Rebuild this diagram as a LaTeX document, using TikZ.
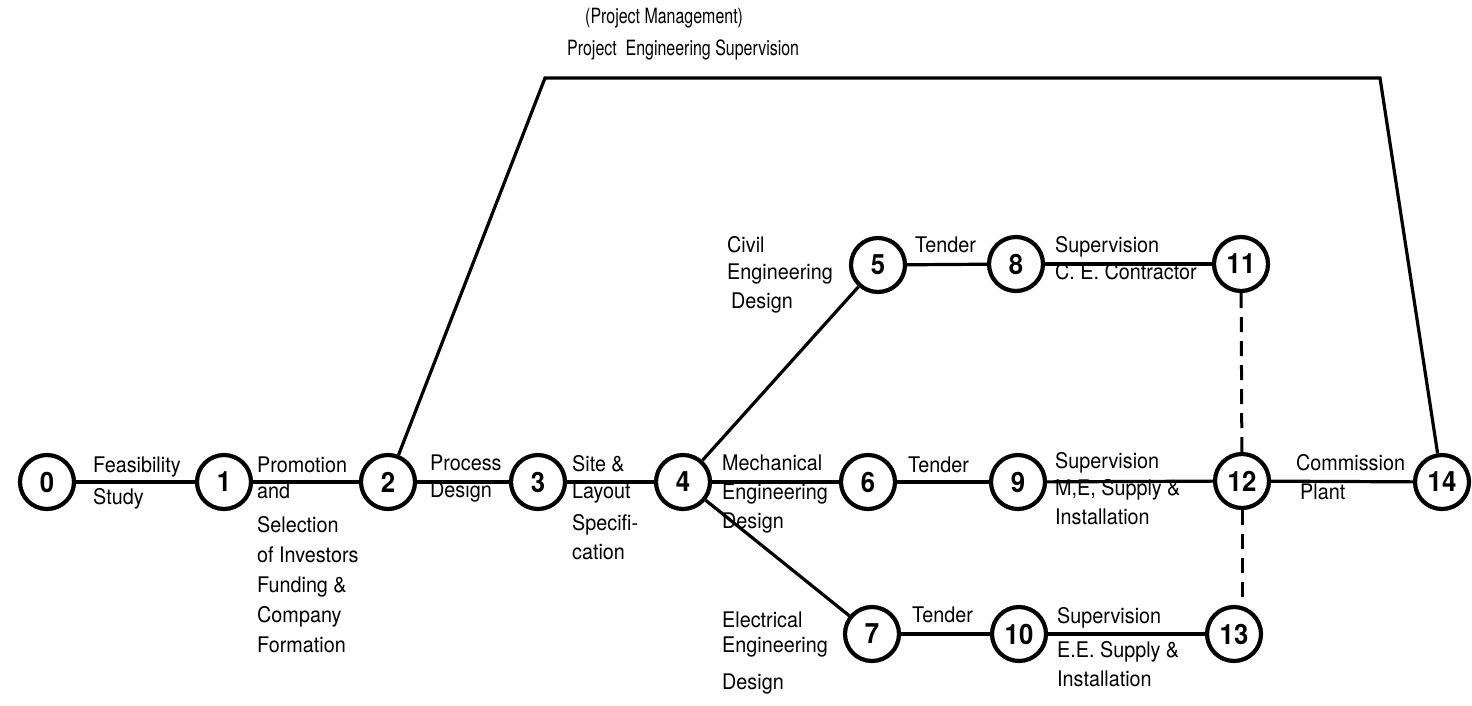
\documentclass[tikz,border=0pt]{standalone}
\usepackage{fontspec}
\setmainfont{TeX Gyre Heros}[FakeStretch=0.92]
\newfontfamily\titlefont{TeX Gyre Heros}[FakeStretch=0.76]
\usetikzlibrary{positioning}

\tikzset{
  event/.style={circle, draw, line width=4.2pt, minimum size=54pt, inner sep=0pt,
    font=\fontsize{28}{28}\selectfont\bfseries},
  act/.style={line width=3.2pt},
  dummy/.style={line width=3pt, dash pattern=on 15pt off 9pt},
  lbl/.style={anchor=north west, inner sep=0pt, align=left,
    font=\fontsize{21.5}{29}\selectfont},
  ttl/.style={anchor=west, inner sep=0pt, font=\titlefont\fontsize{21}{25}\selectfont},
}

\begin{document}
\begin{tikzpicture}[x=1pt, y=-1pt]
  \useasboundingbox (0,0) rectangle (1472,705);

  % events
  \node[event] (n0) at (47,482) {0};
  \node[event] (n1) at (224,482) {1};
  \node[event] (n2) at (388,482) {2};
  \node[event] (n3) at (538,482) {3};
  \node[event] (n4) at (683,482) {4};
  \node[event] (n5) at (878,265) {5};
  \node[event] (n6) at (868,482) {6};
  \node[event] (n7) at (872,634) {7};
  \node[event] (n8) at (1016,264) {8};
  \node[event] (n9) at (1018,482) {9};
  \node[event] (n10) at (1019,634) {10};
  \node[event] (n11) at (1241,264) {11};
  \node[event] (n12) at (1242,481) {12};
  \node[event] (n13) at (1234,634) {13};
  \node[event] (n14) at (1442,482) {14};

  \coordinate (pmL) at (545,78);
  \coordinate (pmR) at (1380,78);

  % activities
  \path[act]
    (n0) edge (n1)
    (n1) edge (n2)
    (n2) edge (n3)
    (n3) edge (n4)
    (n4) edge (n5)
    (n4) edge (n6)
    (n4) edge (n7)
    (n5) edge (n8)
    (n6) edge (n9)
    (n7) edge (n10)
    (n8) edge (n11)
    (n9) edge (n12)
    (n10) edge (n13)
    (n12) edge (n14)
    ;
  \draw[act, line join=miter] (n2) -- (pmL) -- (pmR) -- (n14);

  % dummies
  \draw[dummy] (n11) -- (n12);
  \draw[dummy] (n12) -- (n12 |- n13.north);

  % labels
  \node[ttl] (pm) at (585,18) {(Project Management)};
  \node[ttl] (pes) at (567,50) {Project\ \ Engineering Supervision};

  \node[lbl] (feas) at (93,457) {Feasibility\\[3pt]Study};
  \node[lbl, font=\fontsize{21.5}{30}\selectfont] (promo) at (257,457)
    {Promotion\\[-4pt]and\\[4pt]Selection\\of Investors\\Funding \&\\Company\\Formation};
  \node[lbl] (proc) at (430,455) {Process\\[-2pt]Design};
  \node[lbl] (site) at (572,455) {Site \&\\[-2pt]Layout\\[3pt]Specifi-\\cation};
  \node[lbl] (civil) at (727,236) {Civil\\[-2pt]Engineering\\\hspace{4pt}Design};
  \node[lbl] (mech) at (722,455) {Mechanical\\Engineering\\Design};
  \node[lbl] (elec) at (722,612) {Electrical\\[-4pt]Engineering\\[8pt]Design};
  \node[lbl] (tdA) at (915,237) {Tender};
  \node[lbl] (tdB) at (908,457) {Tender};
  \node[lbl] (tdC) at (912,607) {Tender};
  \node[lbl] (supA) at (1055,236) {Supervision\\[-2pt]C. E. Contractor};
  \node[lbl] (supB) at (1055,452) {Supervision\\[-2pt]M,E, Supply \&\\Installation};
  \node[lbl] (supC) at (1057,607) {Supervision\\[5pt]E.E. Supply \&\\Installation};
  \node[lbl] (comm) at (1296,454) {Commission\\\hspace{4pt}Plant};
\end{tikzpicture}
\end{document}
